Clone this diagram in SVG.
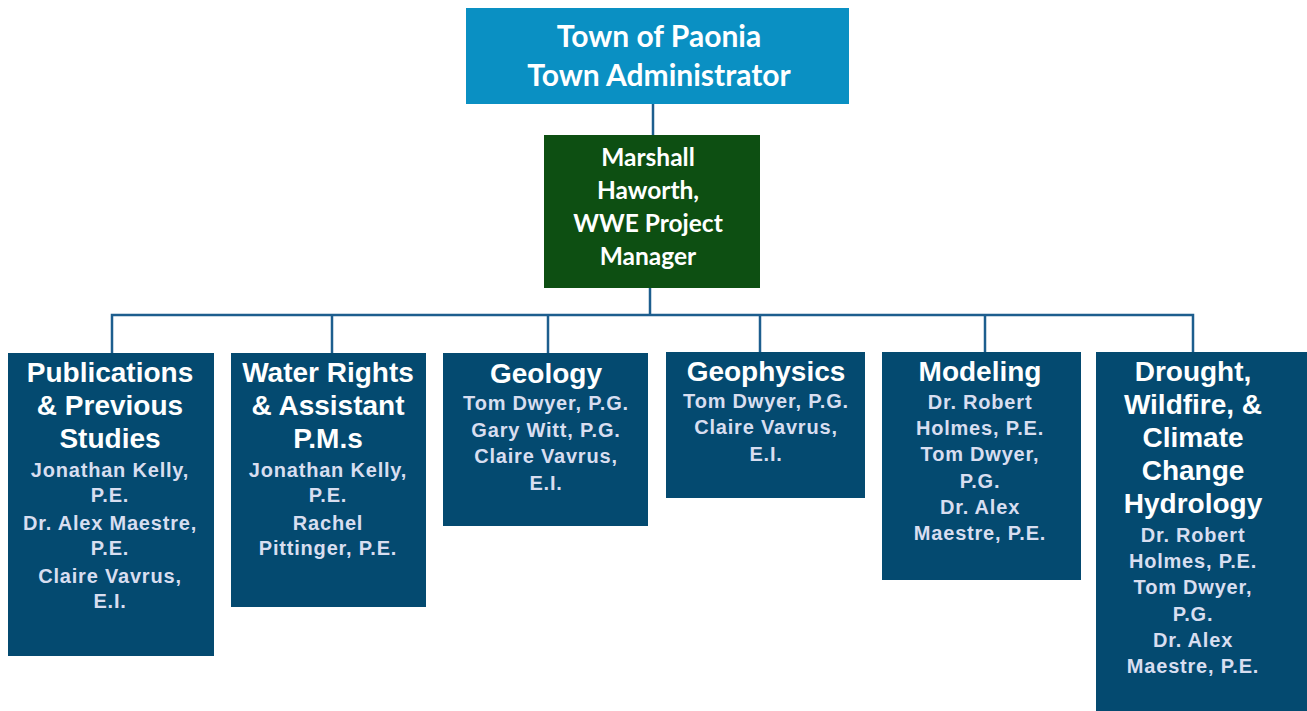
<svg xmlns="http://www.w3.org/2000/svg" width="1307" height="711" viewBox="0 0 1307 711">
  <style>
    .top { fill: #0A90C3; }
    .pm { fill: #0D4F12; }
    .team { fill: #044A70; }
    .head { font-family: Lato, "Open Sans", sans-serif; font-weight: bold; fill: #FFFFFF; text-anchor: middle; }
    .title { font-family: "Liberation Sans", Arial, sans-serif; font-weight: bold; font-size: 28px; fill: #FFFFFF; text-anchor: middle; }
    .name { font-family: "Liberation Sans", Arial, sans-serif; font-weight: bold; font-size: 20px; letter-spacing: 0.8px; fill: #D8DEF0; text-anchor: middle; }
    .link { fill: none; stroke: #1D5E8E; stroke-width: 2.5; }
  </style>

  <rect width="1307" height="711" fill="#FFFFFF"/>

  <!-- connectors -->
  <g id="connectors">
    <path class="link" d="M653 104 V135"/>
    <path class="link" d="M650 288 V315"/>
    <path class="link" d="M112 353 V315 H1193 V352"/>
    <path class="link" d="M332 315 V353"/>
    <path class="link" d="M548 315 V353"/>
    <path class="link" d="M760 315 V352"/>
    <path class="link" d="M985 315 V352"/>
  </g>

  <g id="town-administrator">
    <rect class="top" x="466" y="8" width="383" height="96"/>
    <text class="head" font-size="30" x="659" y="47">Town of Paonia</text>
    <text class="head" font-size="30" x="659" y="86">Town Administrator</text>
  </g>

  <g id="project-manager">
    <rect class="pm" x="544" y="135" width="216" height="153"/>
    <text class="head" font-size="24.5" x="648" y="166">Marshall</text>
    <text class="head" font-size="24.5" x="648" y="199">Haworth,</text>
    <text class="head" font-size="24.5" x="648" y="232">WWE Project</text>
    <text class="head" font-size="24.5" x="648" y="265">Manager</text>
  </g>

  <g id="publications">
    <rect class="team" x="8" y="353" width="206" height="303"/>
    <text class="title" x="110" y="382">Publications</text>
    <text class="title" x="110" y="415">&amp; Previous</text>
    <text class="title" x="110" y="448">Studies</text>
    <text class="name" x="110" y="477">Jonathan Kelly,</text>
    <text class="name" x="110" y="502">P.E.</text>
    <text class="name" x="110" y="530">Dr. Alex Maestre,</text>
    <text class="name" x="110" y="555">P.E.</text>
    <text class="name" x="110" y="583">Claire Vavrus,</text>
    <text class="name" x="110" y="608">E.I.</text>
  </g>

  <g id="water-rights">
    <rect class="team" x="231" y="353" width="195" height="254"/>
    <text class="title" x="328" y="382">Water Rights</text>
    <text class="title" x="328" y="415">&amp; Assistant</text>
    <text class="title" x="328" y="448">P.M.s</text>
    <text class="name" x="328" y="477">Jonathan Kelly,</text>
    <text class="name" x="328" y="502">P.E.</text>
    <text class="name" x="328" y="530">Rachel</text>
    <text class="name" x="328" y="555">Pittinger, P.E.</text>
  </g>

  <g id="geology">
    <rect class="team" x="443" y="353" width="205" height="173"/>
    <text class="title" x="546" y="383">Geology</text>
    <text class="name" x="546" y="410">Tom Dwyer, P.G.</text>
    <text class="name" x="546" y="437">Gary Witt, P.G.</text>
    <text class="name" x="546" y="463">Claire Vavrus,</text>
    <text class="name" x="546" y="490">E.I.</text>
  </g>

  <g id="geophysics">
    <rect class="team" x="666" y="352" width="199" height="146"/>
    <text class="title" x="766" y="381">Geophysics</text>
    <text class="name" x="766" y="408">Tom Dwyer, P.G.</text>
    <text class="name" x="766" y="434">Claire Vavrus,</text>
    <text class="name" x="766" y="461">E.I.</text>
  </g>

  <g id="modeling">
    <rect class="team" x="882" y="352" width="199" height="228"/>
    <text class="title" x="980" y="381">Modeling</text>
    <text class="name" x="980" y="409">Dr. Robert</text>
    <text class="name" x="980" y="435">Holmes, P.E.</text>
    <text class="name" x="980" y="461">Tom Dwyer,</text>
    <text class="name" x="980" y="488">P.G.</text>
    <text class="name" x="980" y="514">Dr. Alex</text>
    <text class="name" x="980" y="540">Maestre, P.E.</text>
  </g>

  <g id="drought-climate">
    <rect class="team" x="1096" y="352" width="211" height="359"/>
    <text class="title" x="1193" y="381">Drought,</text>
    <text class="title" x="1193" y="414">Wildfire, &amp;</text>
    <text class="title" x="1193" y="447">Climate</text>
    <text class="title" x="1193" y="480">Change</text>
    <text class="title" x="1193" y="513">Hydrology</text>
    <text class="name" x="1193" y="542">Dr. Robert</text>
    <text class="name" x="1193" y="568">Holmes, P.E.</text>
    <text class="name" x="1193" y="594">Tom Dwyer,</text>
    <text class="name" x="1193" y="621">P.G.</text>
    <text class="name" x="1193" y="647">Dr. Alex</text>
    <text class="name" x="1193" y="673">Maestre, P.E.</text>
  </g>
</svg>
